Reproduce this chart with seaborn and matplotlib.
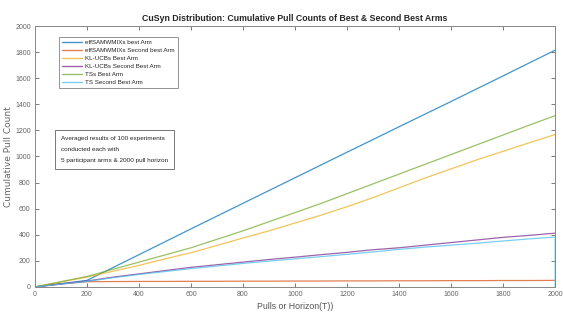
import pandas as pd
import seaborn as sns
import matplotlib.pyplot as plt

# Valores (a cada 100 pulls)
pulls = [0, 100, 200, 300, 400, 500, 600, 700, 800, 900, 1000,
         1100, 1200, 1300, 1400, 1500, 1600, 1700, 1800, 1900, 2000]

eff_best = [0, 25, 50, 148, 247, 346, 445, 543, 641, 739, 837,
            935, 1033, 1130, 1228, 1325, 1422, 1520, 1618, 1717, 1815]
eff_second = [0, 22, 40, 41, 42, 42, 43, 43, 44, 44, 45,
              45, 46, 46, 47, 47, 48, 48, 49, 49, 50]
kl_best = [0, 38, 75, 120, 165, 215, 262, 318, 375, 430, 490,
           550, 615, 685, 760, 835, 905, 975, 1040, 1105, 1168]
kl_second = [0, 23, 45, 75, 100, 125, 150, 170, 190, 210, 228,
             247, 265, 285, 300, 320, 340, 360, 380, 395, 412]
ts_best = [0, 40, 80, 135, 190, 245, 300, 365, 430, 500, 570,
           640, 715, 790, 865, 940, 1015, 1090, 1165, 1240, 1313]
ts_second = [0, 21, 42, 70, 95, 118, 140, 160, 180, 198, 215,
             232, 250, 268, 288, 305, 320, 335, 352, 368, 382]

nomes = ['effSAMWMIXs best Arm', 'effSAMWMIXs Second best Arm',
         'KL-UCBs Best Arm', 'KL-UCBs Second Best Arm',
         'TSs Best Arm', 'TS Second Best Arm']
cores = ['#0072BD', '#D95319', '#EDB120', '#7E2F8E', '#77AC30', '#4DBEEE']

series = [eff_best, eff_second, kl_best, kl_second, ts_best, ts_second]
frames = []
for nome, valores in zip(nomes, series):
    frames.append(pd.DataFrame({'pulls': pulls, 'count': valores, 'arm': nome}))
# a ultima serie cai para zero no fim do horizonte
frames.append(pd.DataFrame({'pulls': [2000], 'count': [0], 'arm': nomes[5]}))
df = pd.concat(frames, ignore_index=True)

sns.set_theme(style='ticks')
plt.rcParams['font.family'] = ['Liberation Sans Narrow', 'Liberation Sans', 'DejaVu Sans']

fig = plt.figure(figsize=(5.63, 3.22), dpi=100)
ax = fig.add_axes([0.062, 0.109, 0.924, 0.81])

sns.lineplot(data=df, x='pulls', y='count', hue='arm', hue_order=nomes,
             palette=cores, linewidth=0.9, alpha=0.75, sort=False,
             estimator=None, ax=ax)

ax.set_xlim(0, 2000)
ax.set_ylim(0, 2000)
ax.set_xticks(range(0, 2001, 200))
ax.set_yticks(range(0, 2001, 200))
ax.tick_params(direction='in', length=3, width=0.6, labelsize=5,
               colors='#666666', top=True, right=True, pad=3)
for s in ax.spines.values():
    s.set_color('#888888')
    s.set_linewidth(0.7)

ax.set_title('CuSyn Distribution: Cumulative Pull Counts of Best & Second Best Arms',
             fontsize=6.3, fontweight='bold', pad=4)
ax.set_xlabel('Pulls or Horizon(T))', fontsize=6.3, color='#555555', labelpad=3)
ax.set_ylabel('Cumulative Pull Count', fontsize=6.5, color='#666666',
              family=['DejaVu Sans'])
ax.yaxis.set_label_coords(-0.043, 0.5)

leg = ax.legend(loc='upper left', bbox_to_anchor=(0.04, 0.972), fontsize=4.5,
                frameon=True, fancybox=False, edgecolor='#777777',
                handlelength=3.2, handletextpad=0.5, labelspacing=0.42,
                borderpad=0.5)
leg.get_frame().set_linewidth(0.7)
for h in leg.get_lines():
    h.set_linewidth(1.0)

ax.text(0.05, 0.58, 'Averaged results of 100 experiments\nconducted each with\n5 participant arms & 2000 pull horizon',
        transform=ax.transAxes, fontsize=4.6, va='top', ha='left', linespacing=2.6,
        bbox=dict(boxstyle='square,pad=0.9', fc='white', ec='#777777', lw=0.7))

fig.savefig('out.png', dpi=100)
